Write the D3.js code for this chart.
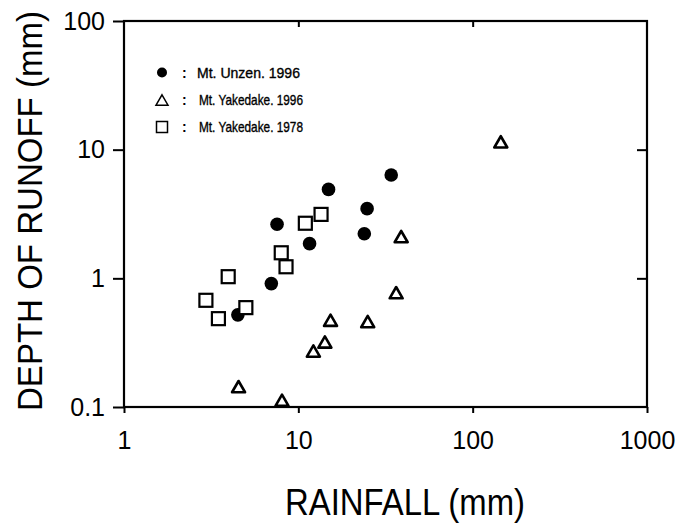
<!DOCTYPE html>
<html>
<head>
<meta charset="utf-8">
<script src="https://cdn.jsdelivr.net/npm/d3@7"></script>
<style>
  html, body { margin: 0; padding: 0; background: #fff; }
  svg { display: block; }
  text { font-family: "Liberation Sans", Arial, sans-serif; fill: #000; }
</style>
</head>
<body>
<svg id="chart" width="685" height="526"></svg>
<script>
// ---- data ----
const unzenX  = [7.55, 14.9, 34.1, 24.8, 23.9, 11.6, 7.0, 4.5];
const unzenY  = [2.63, 4.91, 6.35, 3.48, 2.22, 1.86, 0.91, 0.52];
const yake96X = [4.54, 8.06, 12.2, 14.2, 15.3, 25.0, 36.4, 38.9, 145];
const yake96Y = [0.144, 0.113, 0.272, 0.32, 0.472, 0.461, 0.774, 2.11, 11.5];
const yake78X = [2.95, 3.48, 3.96, 5.0, 7.98, 8.5, 10.97, 13.5];
const yake78Y = [0.675, 0.486, 1.03, 0.592, 1.58, 1.23, 2.68, 3.14];
const xTicks = [1, 10, 100, 1000];
const yTicks = [0.1, 1, 10, 100];
const yTickLabels = ["0.1", "1", "10", "100"];
const legendLabels = ["Mt. Unzen.  1996", "Mt. Yakedake.  1996", "Mt. Yakedake.  1978"];
const xTitle = "RAINFALL (mm)";
const yTitle = "DEPTH OF RUNOFF (mm)";

const svg = d3.select("#chart");
const L = 124, R = 647, T = 21, B = 407;
const x = d3.scaleLog().domain([1, 1000]).range([L, R]);
const y = d3.scaleLog().domain([0.1, 100]).range([B, T]);

// axes
const gl = svg.append("g").attr("transform", `translate(${L},0)`)
  .call(d3.axisLeft(y).tickValues(yTicks).tickSize(11).tickPadding(8)
    .tickFormat((d, i) => yTickLabels[i]));
const gb = svg.append("g").attr("transform", `translate(0,${B})`)
  .call(d3.axisBottom(x).tickValues(xTicks).tickSize(6).tickPadding(18)
    .tickFormat(d => String(d)));
const gt = svg.append("g").attr("transform", `translate(0,${T})`)
  .call(d3.axisTop(x).tickValues([10, 100]).tickSize(-6).tickFormat(""));
const gr = svg.append("g").attr("transform", `translate(${R},0)`)
  .call(d3.axisRight(y).tickValues([1, 10]).tickSize(-10).tickFormat(""));
[gl, gb, gt, gr].forEach(g => {
  g.select(".domain").remove();
  g.selectAll(".tick line").attr("stroke", "#000").attr("stroke-width", 2);
  g.selectAll(".tick text").style("font-size", "25px").attr("fill", "#000");
});

// frame
svg.append("rect").attr("x", L).attr("y", T).attr("width", R - L).attr("height", B - T)
  .attr("fill", "none").attr("stroke", "#000").attr("stroke-width", 2.2);

// titles
svg.append("text").attr("transform", "translate(405,515) scale(1,1.1)").attr("text-anchor", "middle")
  .style("font-size", "33px").attr("textLength", 240).attr("lengthAdjust", "spacingAndGlyphs")
  .text(xTitle);
svg.append("text").attr("transform", "translate(42,211) rotate(-90) scale(1,1.12)").attr("text-anchor", "middle")
  .style("font-size", "32px").attr("textLength", 400).attr("lengthAdjust", "spacingAndGlyphs")
  .text(yTitle);

// markers
const tri = (cx, cy, s) => {
  const h = s * 0.866;
  return `M${cx},${cy - h / 2}L${cx + s / 2},${cy + h / 2}L${cx - s / 2},${cy + h / 2}Z`;
};
svg.append("g").selectAll("circle").data(d3.range(unzenX.length)).join("circle")
  .attr("cx", i => x(unzenX[i])).attr("cy", i => y(unzenY[i])).attr("r", 6.8).attr("fill", "#000");
svg.append("g").selectAll("rect").data(d3.range(yake78X.length)).join("rect")
  .attr("x", i => x(yake78X[i]) - 6.5).attr("y", i => y(yake78Y[i]) - 6.5)
  .attr("width", 13).attr("height", 13).attr("fill", "#fff").attr("stroke", "#000").attr("stroke-width", 2.2);
svg.append("g").selectAll("path").data(d3.range(yake96X.length)).join("path")
  .attr("d", i => tri(x(yake96X[i]), y(yake96Y[i]), 13))
  .attr("fill", "#fff").attr("stroke", "#000").attr("stroke-width", 2.6).attr("stroke-linejoin", "round");

// legend
const lg = svg.append("g");
lg.append("circle").attr("cx", 162).attr("cy", 72.5).attr("r", 5).attr("fill", "#000");
lg.append("path").attr("d", tri(162, 100, 12)).attr("fill", "none").attr("stroke", "#000").attr("stroke-width", 1.5);
lg.append("rect").attr("x", 156.5).attr("y", 121.5).attr("width", 11).attr("height", 11)
  .attr("fill", "none").attr("stroke", "#000").attr("stroke-width", 1.5);
const ly = [77.5, 105, 132];
const lx = [197, 199, 199];
const lw = [103, 104, 104];
legendLabels.forEach((t, i) => {
  lg.append("text").attr("x", 182).attr("y", ly[i]).style("font-size", "14px").style("font-weight", "bold").text(":");
  lg.append("text").attr("x", lx[i]).attr("y", ly[i]).style("font-size", "14.5px")
    .style("stroke", "#000").style("stroke-width", 0.35)
    .attr("textLength", lw[i]).attr("lengthAdjust", "spacingAndGlyphs").text(t);
});
</script>
</body>
</html>
